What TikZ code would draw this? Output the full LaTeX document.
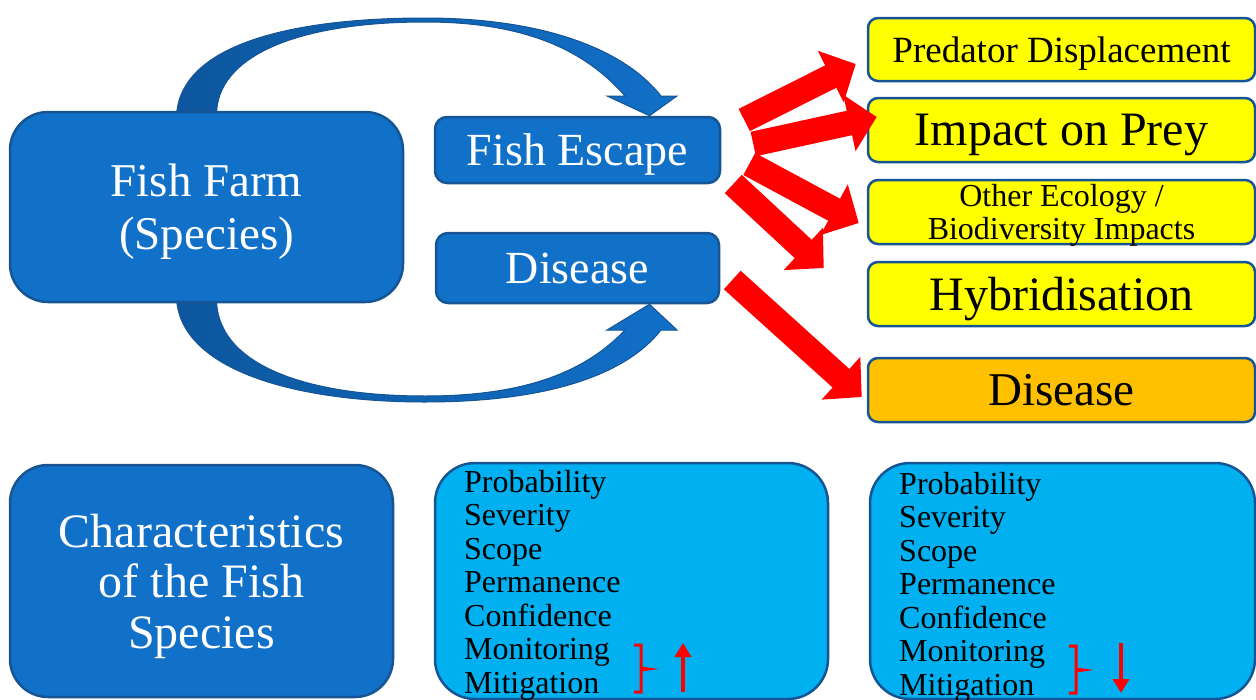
\documentclass[tikz,border=0pt]{standalone}
\usepackage{fontspec}
\setmainfont{Liberation Serif}
\usepackage{xcolor}
\usetikzlibrary{arrows.meta,positioning,calc,backgrounds}
\definecolor{farmblue}{RGB}{17,112,200}
\definecolor{edgeblue}{RGB}{22,84,148}
\definecolor{arcdark}{RGB}{13,86,158}
\definecolor{listblue}{RGB}{0,176,240}
\definecolor{riskyellow}{RGB}{255,255,0}
\definecolor{riskorange}{RGB}{255,192,0}

\begin{document}
\begin{tikzpicture}[
        x=1pt, y=-1pt,
        farmbox/.style={rectangle, rounded corners=38pt, draw=edgeblue, line width=2.5pt, fill=farmblue, text=white, align=center, inner sep=2pt, text depth=0pt},
        pathbox/.style={rectangle, rounded corners=12pt, draw=edgeblue, line width=2.5pt, fill=farmblue, text=white, inner sep=2pt, text depth=0pt, font=\fontsize{46}{50}\selectfont},
        riskbox/.style={rectangle, rounded corners=10pt, draw=edgeblue, line width=2.5pt, fill=riskyellow, text=black, align=center, inner sep=2pt, text depth=0pt, minimum width=387pt, minimum height=64pt},
        listbox/.style={rectangle, rounded corners=40pt, draw=edgeblue, line width=2.5pt, fill=listblue, minimum height=236pt},
        listtext/.style={anchor=north west, inner sep=0pt, align=left, text=black, font=\fontsize{32}{33.5}\selectfont},
        redarrow/.style={draw=red, line width=25pt, -{Triangle[width=56pt,length=28pt]}},
        updown/.style={draw=red, line width=3.5pt, -{Triangle[width=16pt,length=14pt]}},
        bracket/.style={draw=red, line width=3pt, line join=miter}
    ]
        \useasboundingbox (0,0) rectangle (1256,699);

        % left side
        \node[farmbox, minimum width=393pt, minimum height=190pt, font=\fontsize{47}{53}\selectfont] (farm) at (206.5,207) {Fish Farm\\(Species)};
        \node[pathbox, minimum width=285pt, minimum height=66pt] (escape) at (577.5,150) {Fish Escape};
        \node[pathbox, minimum width=283pt, minimum height=70pt, below=47.5pt of escape] (dis) {Disease};

        % impacts
        \node[riskbox, minimum height=63pt, font=\fontsize{37}{40}\selectfont] (pred) at (1061.5,49.5) {Predator Displacement};
        \node[riskbox, below=14.5pt of pred, font=\fontsize{48}{50}\selectfont] (prey) {Impact on Prey};
        \node[riskbox, below=15.5pt of prey, font=\fontsize{32}{33}\selectfont] (other) {Other Ecology /\\Biodiversity Impacts};
        \node[riskbox, below=15.5pt of other, font=\fontsize{48}{50}\selectfont] (hybrid) {Hybridisation};
        \node[riskbox, fill=riskorange, below=29.5pt of hybrid, font=\fontsize{47}{50}\selectfont] (dis2) {Disease};

        % bottom row
        \node[farmbox, minimum width=383pt, minimum height=232pt, font=\fontsize{48}{50.5}\selectfont] (chars) at (201.5,581) {Characteristics\\of the Fish\\Species};
        \node[listbox, minimum width=393pt] (risk) at (631.5,581) {};
        \node[listbox, minimum width=385pt, right=39.5pt of risk] (risk2) {};
        \node[listtext] (risktxt) at (464,470) {Probability\\Severity\\Scope\\Permanence\\Confidence\\Monitoring\\Mitigation};
        \node[listtext] (risktxt2) at (899,472) {Probability\\Severity\\Scope\\Permanence\\Confidence\\Monitoring\\Mitigation};

        % curved arrows behind the farm box
        \begin{scope}[on background layer]
            \shadedraw[left color=arcdark, right color=farmblue, draw=edgeblue, line width=1pt]
                ($(farm.north)+(-30,5)$) .. controls (180,45) and (290,18) .. (425,18)
                .. controls (545,18) and (625,50) .. (661,96) -- (677,96)
                -- ($(escape.north)+(72,0)$) -- (607,96) -- (625,96)
                .. controls (585,50) and (525,22) .. (425,22)
                .. controls (300,22) and (216,55) .. ($(farm.north)+(10,5)$) -- cycle;
            \shadedraw[left color=arcdark, right color=farmblue, draw=edgeblue, line width=1pt]
                ($(farm.south)+(-30,-5)$) .. controls (180,368) and (290,402) .. (425,402)
                .. controls (545,402) and (625,376) .. (661,330) -- (677,330)
                -- ($(dis.south)+(72,0)$) -- (607,330) -- (625,330)
                .. controls (585,372) and (525,396) .. (425,396)
                .. controls (300,396) and (216,362) .. ($(farm.south)+(10,-5)$) -- cycle;
        \end{scope}

        % red arrows to the impacts
        \draw[redarrow] ($(escape.east)+(23,-30)$) -- ($(pred.west)+(-11,14.5)$);
        \draw[redarrow] ($(escape.east)+(32,-6)$) -- ($(prey.west)+(10,-13)$);
        \draw[redarrow] ($(escape.east)+(28,14)$) -- ($(other.west)+(-8,11)$);
        \draw[redarrow] ($(escape.east)+(12,34)$) -- ($(hybrid.west)+(-43,-26)$);
        \draw[redarrow] ($(dis.east)+(12,12)$) -- ($(dis2.west)+(-5,7)$);

        % brackets and trend arrows
        \draw[bracket] (634,645) -- (641,645) -- (641,668) -- (648,669) -- (641,670) -- (641,692) -- (634,692);
        \draw[updown] (683,692) -- (683,643);
        \draw[bracket] (1069,646) -- (1076,646) -- (1076,669) -- (1083,670) -- (1076,671) -- (1076,693) -- (1069,693);
        \draw[updown] (1121,643) -- (1121,693);
    \end{tikzpicture}
\end{document}
